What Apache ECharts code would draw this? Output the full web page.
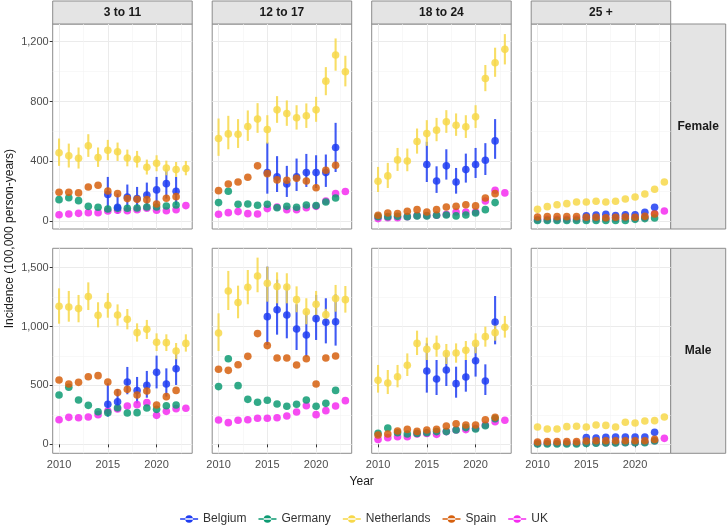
<!DOCTYPE html>
<html>
<head>
<meta charset="utf-8">
<script src="https://cdn.jsdelivr.net/npm/echarts@6/dist/echarts.min.js"></script>
<style>
  html, body { margin: 0; padding: 0; background: #fff; }
  #chart { width: 728px; height: 526px; }
</style>
</head>
<body>
<div id="chart"></div>
<script>
const N = null;
const years = [2010, 2011, 2012, 2013, 2014, 2015, 2016, 2017, 2018, 2019, 2020, 2021, 2022, 2023];
const ageGroups = ['3 to 11', '12 to 17', '18 to 24', '25 +'];
const sexes = ['Female', 'Male'];
const countries = ['Belgium', 'Germany', 'Netherlands', 'Spain', 'UK'];
const colors = ['#1f3df2', '#0e9b73', '#f7d84a', '#d6600e', '#f52cf0'];
// stacking order of the point layers (UK sits underneath)
const layerZ = [4, 3, 5, 6, 2];

const topTicks = [0, 400, 800, 1200];
const topMinor = [200, 600, 1000];
const bottomTicks = [0, 500, 1000, 1500];
const bottomMinor = [250, 750, 1250];
const yearTicks = [2010, 2015, 2020];
const yearMinor = [2012.5, 2017.5, 2022.5];

// Female, 3 to 11
const belF1 = [N, N, N, N, N, 177, 92, 161, 150, 174, 208, 250, 199, N];
const belF1Lo = [N, N, N, N, N, 60, 49, 72, 72, 94, 116, 150, 105, N];
const belF1Hi = [N, N, N, N, N, 295, 183, 244, 228, 257, 295, 346, 295, N];
const gerF1 = [143, 156, 136, 98, 92, 80, 85, 85, 87, 94, 94, 100, 107, N];
const nedF1 = [456, 436, 420, 503, 425, 474, 463, 422, 413, 360, 387, 355, 344, 351];
const nedF1Lo = [369, 358, 351, 429, 362, 407, 402, 366, 358, 311, 333, 306, 295, 306];
const nedF1Hi = [552, 518, 492, 581, 492, 543, 525, 478, 469, 411, 440, 404, 395, 402];
const spaF1 = [192, 192, 188, 228, 239, 201, 183, 150, 145, 143, 114, 152, 163, N];
const ukF1 = [42, 47, 51, 56, 56, 67, 72, 69, 76, 85, 72, 69, 76, 103];

// Female, 12 to 17
const belF2 = [N, N, N, N, N, 324, 295, 248, 295, 324, 324, 324, 492, N];
const belF2Lo = [N, N, N, N, N, 183, 194, 161, 201, 228, 221, 228, 328, N];
const belF2Hi = [N, N, N, N, N, 525, 434, 369, 418, 449, 440, 445, 657, N];
const gerF2 = [123, 199, 112, 114, 105, 112, 89, 98, 92, 107, 103, 127, 154, N];
const nedF2 = [552, 583, 581, 632, 682, 612, 744, 720, 691, 704, 744, 936, 1111, 999];
const nedF2Lo = [436, 480, 489, 536, 590, 518, 657, 637, 612, 623, 664, 842, 1006, 901];
const nedF2Hi = [686, 704, 682, 740, 789, 708, 836, 807, 775, 787, 831, 1030, 1222, 1106];
const spaF2 = [203, 248, 261, 293, 369, 317, 275, 273, 286, 268, 223, 340, 373, N];
const ukF2 = [45, 56, 63, 49, 47, 83, 94, 76, 76, 89, 98, 134, 183, 197];

// Female, 18 to 24
const belF3 = [N, N, N, N, N, 378, 268, 369, 261, 344, 378, 407, 536, N];
const belF3Lo = [N, N, N, N, N, 261, 188, 277, 183, 257, 288, 308, 416, N];
const belF3Hi = [N, N, N, N, N, 530, 366, 480, 355, 451, 489, 521, 682, N];
const gerF3 = [29, 29, 31, 29, 34, 34, 38, 40, 34, 40, 54, 76, 123, N];
const nedF3 = [266, 302, 409, 402, 532, 585, 608, 664, 641, 630, 697, 954, 1059, 1149];
const nedF3Lo = [194, 221, 335, 333, 451, 503, 534, 590, 570, 556, 623, 869, 965, 1048];
const nedF3Hi = [362, 389, 489, 485, 619, 675, 690, 742, 720, 708, 775, 1044, 1160, 1251];
const spaF3 = [38, 54, 49, 65, 76, 60, 76, 94, 98, 109, 101, 154, 183, N];
const ukF3 = [16, 22, 22, 29, 36, 36, 38, 45, 60, 60, 60, 134, 206, 188];

// Female, 25 +
const belF4 = [N, N, N, N, N, 34, 40, 45, 36, 42, 42, 58, 92, N];
const gerF4 = [4, 4, 4, 4, 4, 4, 4, 4, 4, 4, 11, 16, 20, N];
const nedF4 = [78, 96, 109, 116, 127, 127, 132, 127, 132, 147, 161, 181, 212, 261];
const spaF4 = [27, 29, 29, 29, 29, 25, 25, 22, 25, 27, 25, 31, 47, N];
const ukF4 = [10, 11, 12, 12, 13, 14, 15, 16, 17, 18, 19, 24, 49, 67];

// Male, 3 to 11
const belM1 = [N, N, N, N, N, 340, 362, 529, 456, 501, 611, 512, 642, N];
const belM1Lo = [N, N, N, N, N, 235, 277, 425, 348, 396, 475, 405, 504, N];
const belM1Hi = [N, N, N, N, N, 518, 470, 657, 572, 623, 753, 645, 781, N];
const gerM1 = [419, 484, 376, 331, 277, 269, 311, 266, 269, 308, 297, 328, 334, N];
const nedM1 = [1172, 1166, 1152, 1254, 1095, 1180, 1098, 1061, 948, 976, 866, 863, 792, 857];
const nedM1Lo = [1024, 1041, 1036, 1140, 993, 1075, 1007, 976, 872, 894, 792, 792, 722, 787];
const nedM1Hi = [1324, 1302, 1268, 1375, 1206, 1285, 1188, 1149, 1027, 1056, 942, 934, 860, 934];
const spaM1 = [546, 512, 526, 574, 583, 529, 439, 467, 419, 453, 334, 405, 458, N];
const ukM1 = [209, 229, 226, 232, 252, 283, 300, 325, 337, 354, 246, 280, 303, 306];

// Male, 12 to 17
const belM2 = [N, N, N, N, N, 1084, 1143, 1098, 979, 928, 1067, 1036, 1041, N];
const belM2Lo = [N, N, N, N, N, 843, 931, 900, 801, 744, 886, 857, 838, N];
const belM2Hi = [N, N, N, N, N, 1508, 1398, 1350, 1189, 1126, 1268, 1240, 1273, N];
const gerM2 = [490, 727, 498, 382, 357, 374, 342, 323, 340, 376, 323, 348, 458, N];
const nedM2 = [945, 1302, 1203, 1333, 1429, 1367, 1339, 1336, 1228, 1126, 1189, 1101, 1237, 1228];
const nedM2Lo = [792, 1140, 1070, 1189, 1291, 1211, 1197, 1197, 1121, 1019, 1084, 1050, 1126, 1118];
const nedM2Hi = [1112, 1472, 1347, 1480, 1585, 1508, 1460, 1452, 1341, 1240, 1302, 1150, 1353, 1344];
const spaM2 = [637, 628, 676, 747, 940, 838, 733, 733, 674, 727, 512, 733, 750, N];
const ukM2 = [207, 184, 204, 209, 221, 221, 226, 241, 275, 328, 252, 286, 325, 371];

// Male, 18 to 24
const belM3 = [N, N, N, N, N, 623, 555, 631, 515, 572, 710, 538, 1039, N];
const belM3Lo = [N, N, N, N, N, 439, 419, 495, 396, 447, 575, 419, 849, N];
const belM3Hi = [N, N, N, N, N, 857, 716, 778, 659, 716, 857, 679, 1259, N];
const gerM3 = [93, 139, 99, 88, 93, 99, 108, 108, 122, 142, 130, 158, 218, N];
const nedM3 = [543, 521, 574, 671, 857, 807, 832, 770, 775, 798, 857, 914, 948, 993];
const nedM3Lo = [439, 427, 484, 580, 758, 716, 744, 682, 693, 716, 773, 829, 880, 906];
const nedM3Hi = [674, 631, 674, 772, 965, 906, 923, 852, 857, 877, 942, 999, 1020, 1090];
const spaM3 = [79, 88, 113, 127, 110, 122, 127, 156, 175, 164, 164, 209, 229, N];
const ukM3 = [42, 57, 65, 65, 88, 93, 85, 108, 122, 125, 136, 164, 192, 204];

// Male, 25 +
const belM4 = [N, N, N, N, N, 57, 54, 59, 62, 62, 62, 62, 102, N];
const gerM4 = [3, 3, 3, 3, 3, 8, 10, 12, 12, 14, 14, 14, 28, N];
const nedM4 = [147, 130, 130, 150, 153, 147, 164, 161, 147, 187, 181, 198, 201, 232];
const spaM4 = [20, 23, 23, 23, 23, 28, 30, 31, 31, 31, 31, 31, 42, N];
const ukM4 = [8, 9, 9, 10, 10, 12, 13, 14, 15, 16, 16, 18, 30, 51];

// panels in row-major order, countries in legend order
const panelValues = [
  [belF1, gerF1, nedF1, spaF1, ukF1],
  [belF2, gerF2, nedF2, spaF2, ukF2],
  [belF3, gerF3, nedF3, spaF3, ukF3],
  [belF4, gerF4, nedF4, spaF4, ukF4],
  [belM1, gerM1, nedM1, spaM1, ukM1],
  [belM2, gerM2, nedM2, spaM2, ukM2],
  [belM3, gerM3, nedM3, spaM3, ukM3],
  [belM4, gerM4, nedM4, spaM4, ukM4]
];
const panelErrors = [
  [[belF1Lo, belF1Hi], N, [nedF1Lo, nedF1Hi], N, N],
  [[belF2Lo, belF2Hi], N, [nedF2Lo, nedF2Hi], N, N],
  [[belF3Lo, belF3Hi], N, [nedF3Lo, nedF3Hi], N, N],
  [N, N, N, N, N],
  [[belM1Lo, belM1Hi], N, [nedM1Lo, nedM1Hi], N, N],
  [[belM2Lo, belM2Hi], N, [nedM2Lo, nedM2Hi], N, N],
  [[belM3Lo, belM3Hi], N, [nedM3Lo, nedM3Hi], N, N],
  [N, N, N, N, N]
];

// layout
const FONT = '"Liberation Sans", Arial, sans-serif';
const colLeft = [52.7, 212.2, 371.7, 531.2];
const panelW = 139.5;
const rowTop = [24, 248.3];
const panelH = 205;
const stripH = 23;
const stripW = 55;
const rowRange = [[-53.6, 1318.6], [-76, 1664]];
const xRange = [2009.35, 2023.65];
const borderColor = '#8c8c8c';

const withCommas = v => String(v).replace(/\B(?=(\d{3})+(?!\d))/g, ',');

const chart = echarts.init(document.getElementById('chart'));

const grid = [];
const xAxis = [];
const yAxis = [];
const series = [];
const graphic = [];

for (let r = 0; r < 2; r++) {
  for (let c = 0; c < 4; c++) {
    const k = r * 4 + c;
    grid.push({
      left: colLeft[c], top: rowTop[r], width: panelW, height: panelH,
      show: true, borderColor: borderColor, borderWidth: 1, containLabel: false
    });
    // major x
    xAxis.push({
      gridIndex: k, type: 'value', min: xRange[0], max: xRange[1],
      axisLine: { show: false },
      axisTick: { show: r === 1, customValues: yearTicks, length: 3, lineStyle: { color: '#333' } },
      axisLabel: { show: r === 1, customValues: yearTicks, formatter: v => String(v), color: '#4d4d4d', fontSize: 11, fontFamily: FONT, margin: 6 },
      splitLine: { show: true, lineStyle: { color: '#ebebeb', width: 1 } }
    });
    // minor x
    xAxis.push({
      gridIndex: k, type: 'value', min: xRange[0], max: xRange[1],
      axisLine: { show: false },
      axisTick: { show: false, customValues: yearMinor },
      axisLabel: { show: false, customValues: yearMinor },
      splitLine: { show: true, lineStyle: { color: '#f4f4f4', width: 0.6 } }
    });
    const ticks = r === 0 ? topTicks : bottomTicks;
    const minor = r === 0 ? topMinor : bottomMinor;
    yAxis.push({
      gridIndex: k, type: 'value', min: rowRange[r][0], max: rowRange[r][1],
      axisLine: { show: false },
      axisTick: { show: c === 0, customValues: ticks, length: 3, lineStyle: { color: '#333' } },
      axisLabel: { show: c === 0, customValues: ticks, formatter: withCommas, color: '#4d4d4d', fontSize: 11, fontFamily: FONT, margin: 4 },
      splitLine: { show: true, lineStyle: { color: '#ebebeb', width: 1 } }
    });
    yAxis.push({
      gridIndex: k, type: 'value', min: rowRange[r][0], max: rowRange[r][1],
      axisLine: { show: false },
      axisTick: { show: false, customValues: minor },
      axisLabel: { show: false, customValues: minor },
      splitLine: { show: true, lineStyle: { color: '#f4f4f4', width: 0.6 } }
    });

    const axisIdx = k * 2;
    panelValues[k].forEach((vals, ci) => {
      const err = panelErrors[k][ci];
      if (err) {
        const errData = [];
        years.forEach((yr, i) => {
          if (err[0][i] != null) errData.push([yr, err[0][i], err[1][i]]);
        });
        series.push({
          name: countries[ci], type: 'custom', xAxisIndex: axisIdx, yAxisIndex: axisIdx,
          z: 1, color: colors[ci], silent: true,
          encode: { x: 0, y: [1, 2] },
          data: errData,
          renderItem: (params, api) => {
            const p1 = api.coord([api.value(0), api.value(1)]);
            const p2 = api.coord([api.value(0), api.value(2)]);
            return {
              type: 'line',
              shape: { x1: p1[0], y1: p1[1], x2: p2[0], y2: p2[1] },
              style: { stroke: colors[ci], lineWidth: 2.1, opacity: 0.85 }
            };
          }
        });
      }
      const pts = [];
      years.forEach((yr, i) => { if (vals[i] != null) pts.push([yr, vals[i]]); });
      series.push({
        name: countries[ci], type: 'scatter', xAxisIndex: axisIdx, yAxisIndex: axisIdx,
        z: layerZ[ci], symbolSize: 7.6, silent: true,
        itemStyle: { color: colors[ci], opacity: 0.85 },
        data: pts
      });
    });
  }
}

// facet strips
ageGroups.forEach((label, c) => {
  graphic.push({
    type: 'rect', shape: { x: colLeft[c], y: rowTop[0] - stripH, width: panelW, height: stripH },
    style: { fill: '#e4e4e4', stroke: borderColor, lineWidth: 1 }
  });
  graphic.push({
    type: 'text', x: colLeft[c] + panelW / 2, y: rowTop[0] - stripH / 2,
    style: { text: label, font: 'bold 12px ' + FONT, fill: '#1a1a1a', align: 'center', verticalAlign: 'middle' }
  });
});
sexes.forEach((label, r) => {
  const x0 = colLeft[3] + panelW;
  graphic.push({
    type: 'rect', shape: { x: x0, y: rowTop[r], width: stripW, height: panelH },
    style: { fill: '#e4e4e4', stroke: borderColor, lineWidth: 1 }
  });
  graphic.push({
    type: 'text', x: x0 + stripW / 2, y: rowTop[r] + panelH / 2,
    style: { text: label, font: 'bold 12px ' + FONT, fill: '#1a1a1a', align: 'center', verticalAlign: 'middle' }
  });
});
// axis titles
graphic.push({
  type: 'text', x: colLeft[0] + (colLeft[3] + panelW - colLeft[0]) / 2, y: 482,
  style: { text: 'Year', font: '12px ' + FONT, fill: '#1a1a1a', align: 'center', verticalAlign: 'middle' }
});
graphic.push({
  type: 'text', x: 10, y: (rowTop[0] + rowTop[1] + panelH) / 2, rotation: Math.PI / 2,
  style: { text: 'Incidence (100,000 person-years)', font: '12px ' + FONT, fill: '#1a1a1a', align: 'center', verticalAlign: 'middle' }
});

const legendIcon = 'path://M0,4.2H18V5.8H0Z M5.2,5A3.8,3.8,0,1,0,12.8,5A3.8,3.8,0,1,0,5.2,5Z';

chart.setOption({
  animation: false,
  backgroundColor: '#fff',
  grid: grid,
  xAxis: xAxis,
  yAxis: yAxis,
  series: series,
  graphic: graphic,
  legend: {
    left: 'center', top: 508, selectedMode: false,
    itemWidth: 18, itemHeight: 10, itemGap: 12,
    textStyle: { fontSize: 12, fontFamily: FONT, color: '#333' },
    data: countries.map(name => ({ name: name, icon: legendIcon, itemStyle: { opacity: 1 } }))
  }
});
</script>
</body>
</html>
